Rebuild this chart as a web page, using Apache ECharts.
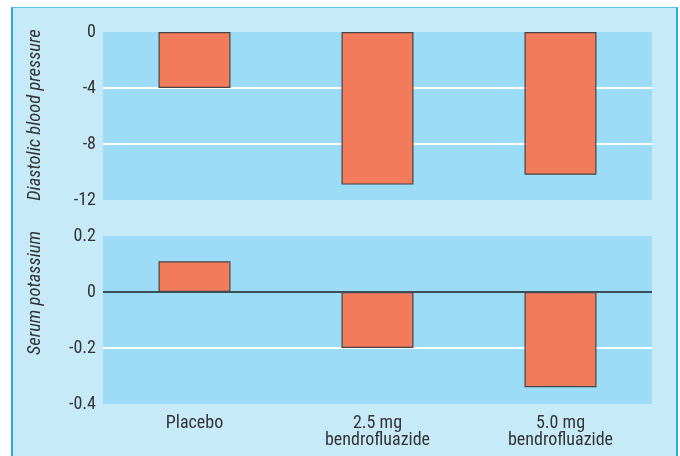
<!DOCTYPE html>
<html>
<head>
<meta charset="utf-8">
<script src="https://cdn.jsdelivr.net/npm/echarts@6/dist/echarts.min.js"></script>
<style>
html,body{margin:0;padding:0;background:#fff;}
#wrap{position:relative;width:680px;height:456px;overflow:hidden;}
#panel{position:absolute;left:11px;top:7px;width:663px;height:460px;background:#c7eaf9;border-left:2px solid #29abe2;border-right:2px solid #29abe2;border-top:1px solid #5cc0ea;}
#chart{position:absolute;left:0;top:0;width:680px;height:456px;}
</style>
</head>
<body>
<div id="wrap"><div id="panel"></div><div id="chart"></div></div>
<script>
const categories = ['Placebo', '2.5 mg\nbendrofluazide', '5.0 mg\nbendrofluazide'];
const diastolicBP = [-4.0, -10.9, -10.2];
const serumPotassium = [0.11, -0.2, -0.34];
const bpTicks = { min: -12, max: 0, interval: 4 };
const kTicks = { min: -0.4, max: 0.2, interval: 0.2 };
const bpName = 'Diastolic blood pressure';
const kName = 'Serum potassium';

const FONT = "'Liberation Sans Narrow', 'Arial Narrow', 'Roboto Condensed', 'Liberation Sans', sans-serif";
const TXT = '#333';
const BAR = '#f27b5c';
const PLOT = '#9ddcf7';
const tr = 'rgba(0,0,0,0)';

const chart = echarts.init(document.getElementById('chart'), null, { renderer: 'canvas' });
chart.setOption({
  backgroundColor: 'transparent',
  animation: false,
  textStyle: { fontFamily: FONT },
  grid: [
    { left: 103, top: 32, width: 549, height: 168, show: true, backgroundColor: PLOT, borderWidth: 0, containLabel: false },
    { left: 103, top: 236, width: 549, height: 168, show: true, backgroundColor: PLOT, borderWidth: 0, containLabel: false }
  ],
  xAxis: [
    { type: 'category', gridIndex: 0, data: categories, axisLine: { show: false }, axisTick: { show: false }, axisLabel: { show: false } },
    { type: 'category', gridIndex: 1, data: categories, position: 'bottom',
      axisLine: { show: false, onZero: false }, axisTick: { show: false },
      axisLabel: { color: TXT, fontSize: 18, fontFamily: FONT, lineHeight: 17, margin: 11 } }
  ],
  yAxis: [
    { type: 'value', gridIndex: 0, min: bpTicks.min, max: bpTicks.max, interval: bpTicks.interval,
      axisLine: { show: false }, axisTick: { show: false },
      axisLabel: { color: TXT, fontSize: 18, fontFamily: FONT, margin: 7 },
      splitLine: { show: true, lineStyle: { color: [tr, '#ffffff', '#ffffff', tr], width: 2 } } },
    { type: 'value', gridIndex: 1, min: kTicks.min, max: kTicks.max, interval: kTicks.interval,
      axisLine: { show: false }, axisTick: { show: false },
      axisLabel: { color: TXT, fontSize: 18, fontFamily: FONT, margin: 7,
        formatter: v => (Math.abs(v) < 1e-9 ? '0' : String(Math.round(v * 10) / 10)) },
      splitLine: { show: true, lineStyle: { color: [tr, '#ffffff', tr, tr], width: 2 } } }
  ],
  series: [
    { type: 'bar', xAxisIndex: 0, yAxisIndex: 0, data: diastolicBP, barWidth: 72,
      itemStyle: { color: BAR, borderColor: '#444', borderWidth: 1.2 } },
    { type: 'bar', xAxisIndex: 1, yAxisIndex: 1, data: serumPotassium, barWidth: 72,
      itemStyle: { color: BAR, borderColor: '#444', borderWidth: 1.2 },
      markLine: { silent: true, symbol: 'none', label: { show: false },
        lineStyle: { color: '#3d4d55', width: 2, type: 'solid' },
        data: [{ yAxis: 0 }] } }
  ],
  graphic: [
    { type: 'text', x: 35, y: 115, rotation: Math.PI / 2,
      style: { text: bpName, fill: TXT, font: 'italic 18.5px ' + FONT, textAlign: 'center', textVerticalAlign: 'middle' } },
    { type: 'text', x: 35, y: 293, rotation: Math.PI / 2,
      style: { text: kName, fill: TXT, font: 'italic 18.5px ' + FONT, textAlign: 'center', textVerticalAlign: 'middle' } }
  ]
});
</script>
</body>
</html>
